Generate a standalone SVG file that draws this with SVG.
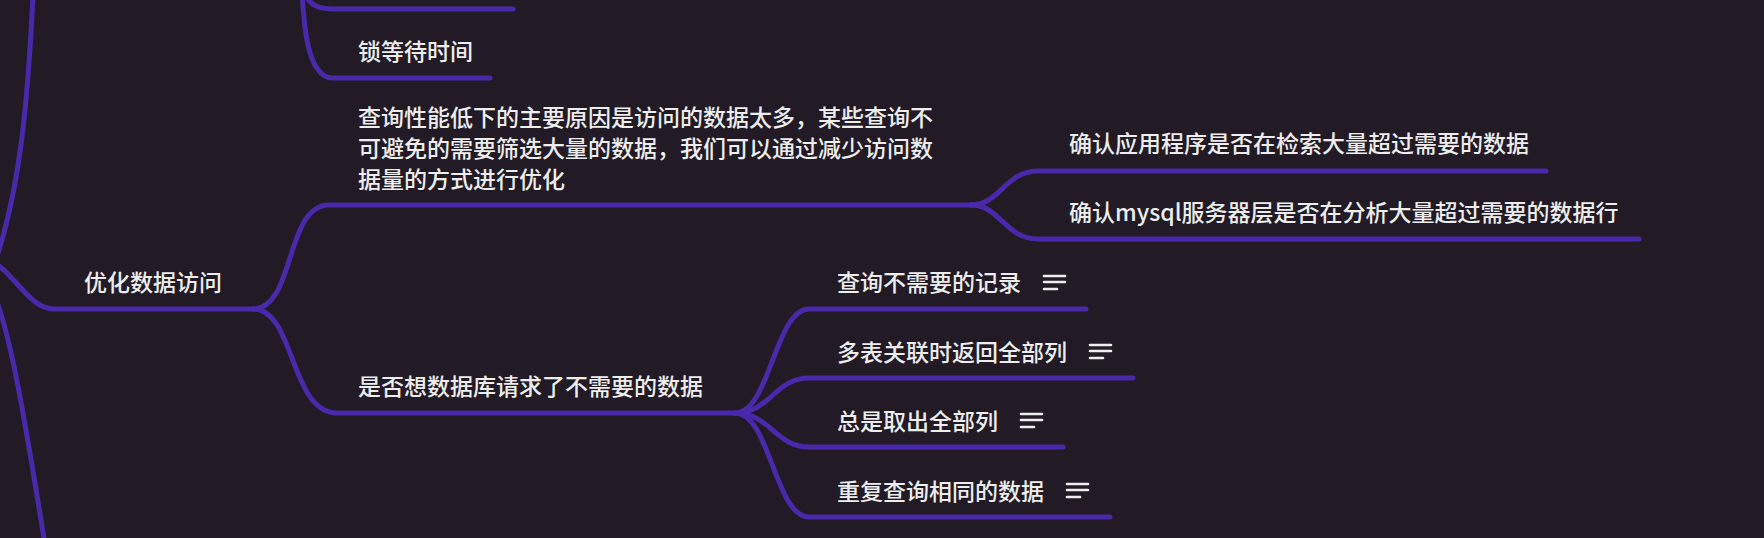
<svg xmlns="http://www.w3.org/2000/svg" width="1764" height="538" viewBox="0 0 1764 538">
<defs>
<style>
.bg{fill:#221b26}
.ln{fill:none;stroke:#4a28aa;stroke-width:5;stroke-linecap:round;stroke-linejoin:round}
.tx{font-family:"Noto Sans CJK SC","Noto Sans",sans-serif;font-size:23px;font-weight:500;fill:#ededed}
.ic{stroke:#ededed;stroke-width:2.6;stroke-linecap:round}
</style>
<g id="noteIcon">
<line class="ic" x1="0" y1="0" x2="21" y2="0"/>
<line class="ic" x1="0" y1="6" x2="21" y2="6"/>
<line class="ic" x1="0" y1="13" x2="13" y2="13"/>
</g>
</defs>
<rect class="bg" x="0" y="0" width="1764" height="538"/>
<g id="connectors">
<path class="ln" d="M33,-5 C28,100 20,190 -5,262"/>
<path class="ln" d="M-20,258 C10,260 25,309 54,309 L253,309"/>
<path class="ln" d="M-20,270 C5,290 25,420 45,545"/>
<path class="ln" d="M302,-30 C303,0 310,9 333,9 L513,9"/>
<path class="ln" d="M300,-60 C302,20 305,78 333,78 L490,78"/>
<path class="ln" d="M253,309 C295,309 285,205 329,205 L971,205"/>
<path class="ln" d="M253,309 C295,309 290,413 337,413 L735,413"/>
<path class="ln" d="M971,205 C1000,205 1005,171 1038,171 L1546,171"/>
<path class="ln" d="M971,205 C1000,205 1005,239 1038,239 L1639,239"/>
<path class="ln" d="M735,413 C770,413 775,309 809,309 L1086,309"/>
<path class="ln" d="M735,413 C770,413 775,378 809,378 L1133,378"/>
<path class="ln" d="M735,413 C770,413 775,447 809,447 L1063,447"/>
<path class="ln" d="M735,413 C770,413 775,517 809,517 L1110,517"/>
</g>
<g id="node-lock-wait"><text class="tx" x="358" y="60">锁等待时间</text></g>
<g id="node-optimize"><text class="tx" x="84" y="291">优化数据访问</text></g>
<g id="node-reason">
<text class="tx" x="358" y="126">查询性能低下的主要原因是访问的数据太多，某些查询不</text>
<text class="tx" x="358" y="157">可避免的需要筛选大量的数据，我们可以通过减少访问数</text>
<text class="tx" x="358" y="188">据量的方式进行优化</text>
</g>
<g id="node-app-check"><text class="tx" x="1069" y="152">确认应用程序是否在检索大量超过需要的数据</text></g>
<g id="node-mysql-check"><text class="tx" x="1069" y="221">确认mysql服务器层是否在分析大量超过需要的数据行</text></g>
<g id="node-unneeded"><text class="tx" x="358" y="395">是否想数据库请求了不需要的数据</text></g>
<g id="node-c1"><text class="tx" x="837" y="291">查询不需要的记录</text><use href="#noteIcon" x="1044" y="276"/></g>
<g id="node-c2"><text class="tx" x="837" y="361">多表关联时返回全部列</text><use href="#noteIcon" x="1090" y="345"/></g>
<g id="node-c3"><text class="tx" x="837" y="430">总是取出全部列</text><use href="#noteIcon" x="1021" y="414"/></g>
<g id="node-c4"><text class="tx" x="837" y="500">重复查询相同的数据</text><use href="#noteIcon" x="1067" y="484"/></g>
</svg>
